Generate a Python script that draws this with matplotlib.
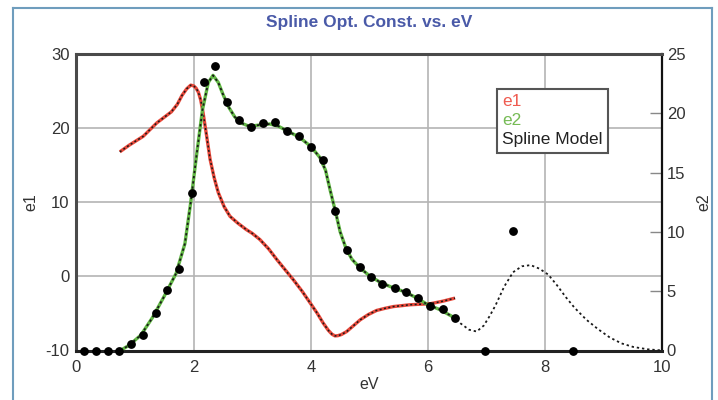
import matplotlib
matplotlib.use("Agg")
import matplotlib.pyplot as plt
from matplotlib.lines import Line2D

plt.rcParams['font.family'] = ['Liberation Sans', 'DejaVu Sans']
plt.rcParams['axes.unicode_minus'] = False

# e2 measured points (black dots)
pts_ev = [0.13, 0.33, 0.53, 0.73, 0.93, 1.14, 1.35, 1.55, 1.75, 1.97, 2.18, 2.36,
          2.57, 2.78, 2.98, 3.19, 3.39, 3.60, 3.80, 4.01, 4.21, 4.42, 4.62, 4.83,
          5.03, 5.22, 5.44, 5.63, 5.83, 6.04, 6.25, 6.46, 6.97, 7.45, 8.48]
pts_e2 = [0.0, 0.0, 0.0, 0.0, 0.55, 1.31, 3.18, 5.12, 6.87, 13.3, 22.6, 23.95,
          20.98, 19.43, 18.81, 19.18, 19.26, 18.5, 18.05, 17.2, 16.05, 11.73, 8.45, 7.04,
          6.17, 5.6, 5.27, 4.93, 4.39, 3.77, 3.46, 2.7, 0.0, 10.06, 0.0]

# e1 curve
e1_ev = [0.74, 0.9, 1.14, 1.37, 1.62, 1.72, 1.80, 1.88, 1.95, 2.0, 2.04, 2.08, 2.12, 2.16,
         2.22, 2.28, 2.35, 2.42, 2.52, 2.62, 2.75, 2.9, 3.0, 3.13, 3.28, 3.42, 3.56,
         3.70, 3.85, 4.01, 4.11, 4.21, 4.30, 4.36, 4.41, 4.46, 4.52, 4.61, 4.72, 4.84,
         4.98, 5.12, 5.27, 5.41, 5.55, 5.69, 5.86, 6.03, 6.25, 6.46]
e1_val = [16.8, 17.7, 18.9, 20.7, 22.2, 23.2, 24.4, 25.3, 25.8, 25.7, 25.4, 24.85, 23.8, 22.1,
          19.0, 15.8, 13.3, 11.3, 9.4, 8.1, 7.2, 6.3, 5.8, 4.97, 3.7, 2.26, 0.9,
          -0.45, -2.0, -3.84, -5.0, -6.3, -7.3, -7.8, -8.03, -8.0, -7.85, -7.45, -6.7, -5.87,
          -5.15, -4.6, -4.3, -4.07, -3.95, -3.83, -3.76, -3.7, -3.35, -2.93]

# e2 model curve
e2_ev = [0.75, 0.9, 1.1, 1.3, 1.5, 1.7, 1.85, 1.95, 2.05, 2.15, 2.25, 2.33, 2.42, 2.5,
         2.6, 2.7, 2.8, 2.95, 3.1, 3.3, 3.45, 3.6, 3.8, 4.0, 4.15, 4.25, 4.33, 4.42,
         4.5, 4.6, 4.7, 4.83, 5.0, 5.2, 5.4, 5.6, 5.8, 6.0, 6.2, 6.4, 6.46]
e2_val = [0.0, 0.45, 1.3, 2.8, 4.6, 6.5, 9.0, 12.5, 16.5, 20.3, 22.6, 23.2, 22.6, 21.6,
          20.5, 19.7, 19.2, 18.9, 19.0, 19.1, 18.9, 18.5, 18.0, 17.2, 16.3, 15.2, 13.5, 11.7,
          10.0, 8.6, 7.7, 7.0, 6.3, 5.7, 5.3, 4.95, 4.45, 3.85, 3.45, 2.9, 2.7]

# spline model extension beyond the data
tail_ev = [6.46, 6.55, 6.7, 6.83, 6.95, 7.05, 7.15, 7.3, 7.45, 7.6, 7.75, 7.9, 8.05,
           8.2, 8.35, 8.5, 8.7, 8.9, 9.1, 9.3, 9.5, 9.75, 10.0]
tail_val = [2.7, 2.3, 1.75, 1.6, 2.1, 2.9, 3.8, 5.4, 6.6, 7.1, 7.2, 6.9, 6.4,
            5.5, 4.5, 3.6, 2.6, 1.8, 1.1, 0.6, 0.3, 0.1, 0.0]

RED = '#e8483a'
GREEN = '#62b845'
DOT = '#1a1a1a'
DOTLS = (0, (1.3, 1.6))

fig = plt.figure(figsize=(7.18, 4.0), dpi=100)
ax1 = fig.add_axes([0.1065, 0.12375, 0.8162, 0.74125])
ax2 = ax1.twinx()

# figure border
bc = '#6f9dbd'
fig.add_artist(Line2D([13/718, 13/718], [0, 1 - 8/400], transform=fig.transFigure, color=bc, lw=1.5))
fig.add_artist(Line2D([13/718, 712/718], [1 - 8/400, 1 - 8/400], transform=fig.transFigure, color=bc, lw=1.5))
fig.add_artist(Line2D([712/718, 712/718], [0, 1 - 8/400], transform=fig.transFigure, color=bc, lw=1.5))

ax1.set_xlim(0, 10)
ax1.set_ylim(-10, 30)
ax2.set_ylim(0, 25)
ax1.set_xticks([0, 2, 4, 6, 8, 10])
ax1.set_yticks([-10, 0, 10, 20, 30])
ax2.set_yticks([0, 5, 10, 15, 20, 25])

ax1.grid(True, color='#b4b4b4', lw=1.2)
ax1.set_axisbelow(True)

ax1.plot(e1_ev, e1_val, color=RED, lw=2.4, solid_capstyle='butt', zorder=3)
ax1.plot(e1_ev, e1_val, color=DOT, lw=1.1, ls=DOTLS, zorder=4)

ax2.plot(e2_ev, e2_val, color=GREEN, lw=2.4, zorder=3)
ax2.plot(e2_ev + tail_ev[1:], e2_val + tail_val[1:], color=DOT, lw=1.3,
         ls=DOTLS, zorder=4)
ax2.plot(pts_ev, pts_e2, 'o', color='black', ms=5.3, zorder=5, clip_on=False)

for a in (ax1, ax2):
    for s in a.spines.values():
        s.set_visible(False)
sp_col = '#4a4a4a'
ax2.spines['left'].set_visible(True)
ax2.spines['left'].set_color(sp_col)
ax2.spines['left'].set_linewidth(2.2)
ax2.spines['top'].set_visible(True)
ax2.spines['top'].set_color(sp_col)
ax2.spines['top'].set_linewidth(2.2)
ax2.spines['bottom'].set_visible(True)
ax2.spines['bottom'].set_color('#222222')
ax2.spines['bottom'].set_linewidth(2.2)
ax2.spines['right'].set_visible(True)
ax2.spines['right'].set_color('#111111')
ax2.spines['right'].set_linewidth(1.6)

tc = '#333333'
ax1.tick_params(axis='y', length=0, labelsize=12, labelcolor=tc, pad=5)
ax1.tick_params(axis='x', length=0, labelsize=12, labelcolor=tc, pad=7)
ax2.tick_params(axis='y', direction='in', length=9, width=1, color='#888888',
                labelsize=12, labelcolor=tc, pad=3)

ax1.set_xlabel('eV', fontsize=11.5, color=tc, labelpad=1)
ax1.set_ylabel('e1', fontsize=11.5, color=tc, labelpad=5)
ax2.set_ylabel('e2', fontsize=11.5, color=tc, labelpad=8)

fig.text(0.5146, 1 - 23/400, 'Spline Opt. Const. vs. eV', ha='center', va='center',
         fontsize=12.5, fontweight='bold', color='#4a5aa8')

handles = [Line2D([], [], color=RED), Line2D([], [], color=GREEN), Line2D([], [], color='k')]
leg = ax2.legend(handles, ['e1', 'e2', 'Spline Model'], loc='upper left',
                 bbox_to_anchor=(0.718, 0.882), borderaxespad=0, handlelength=0,
                 handletextpad=0, fancybox=False, framealpha=1, edgecolor='#555555',
                 fontsize=12.5, labelspacing=0.22, borderpad=0.3,
                 labelcolor=['#ef5b50', '#76bb55', '#222222'])
leg.get_frame().set_linewidth(1.5)
for h in leg.legend_handles:
    h.set_visible(False)
leg.set_zorder(10)

fig.savefig('out.png', dpi=100)
